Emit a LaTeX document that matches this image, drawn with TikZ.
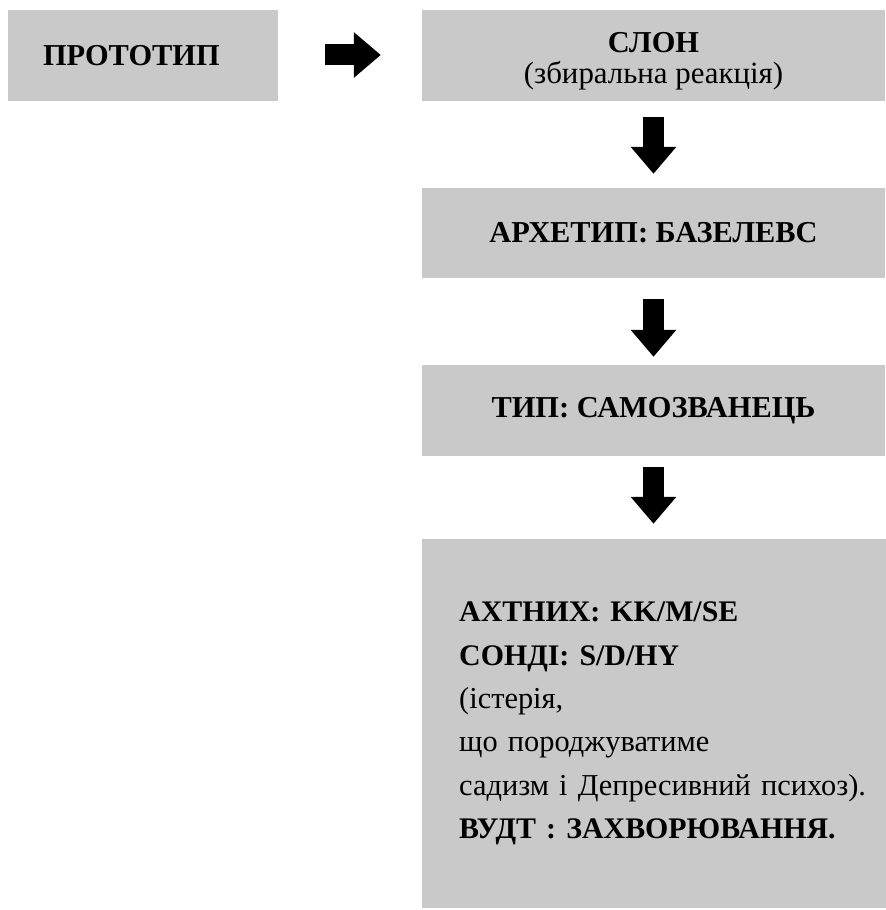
\documentclass[tikz,border=0pt]{standalone}
\usepackage{fontspec}
\setmainfont{Liberation Serif}
\usetikzlibrary{arrows.meta}
\definecolor{boxgray}{RGB}{201,201,201}
\tikzset{
  greybox/.style={fill=boxgray,draw=none,inner sep=0pt},
  headtext/.style={font=\fontsize{30.5}{34}\selectfont\bfseries},
  blockarrow/.style={line width=21bp,-{Triangle[width=44bp,length=27bp]}},
}
\begin{document}
\begin{tikzpicture}[>=latex,line join=miter,]
%%
\useasboundingbox (0bp,0bp) rectangle (886bp,910bp);
\node (proto) at (143bp,854.5bp) [greybox,minimum width=270bp,minimum height=91bp,text width=200bp,align=left,headtext] {ПРОТОТИП};
  \node (slon) at (653.5bp,854.5bp) [greybox,minimum width=463bp,minimum height=91bp,align=center,font=\fontsize{31}{31}\selectfont] {\rule{0pt}{32bp}{\fontsize{30.5}{31}\selectfont\bfseries СЛОН}\\(збиральна реакція)};
  \node (arch) at (653.5bp,677bp) [greybox,minimum width=463bp,minimum height=90bp,headtext] {АРХЕТИП: БАЗЕЛЕВС};
  \node (typ) at (653.5bp,499.5bp) [greybox,minimum width=463bp,minimum height=91bp,headtext] {ТИП: САМОЗВАНЕЦЬ};
  \node (diag) at (422bp,186.5bp) [greybox,anchor=west,inner xsep=37bp,text width=390bp,minimum height=369bp,align=left,font=\fontsize{30.5}{43.5}\selectfont] {{\fontsize{30}{43.5}\selectfont\bfseries АХТНИХ: KK/M/SE}\\
    {\fontsize{30}{43.5}\selectfont\bfseries СОНДІ: S/D/HY}\\
    (істерія,\\
    що породжуватиме\\
    \mbox{садизм і Депресивний психоз).}\\
    {\fontsize{30}{43.5}\selectfont\bfseries ВУДТ : ЗАХВОРЮВАННЯ.}};
  \draw [blockarrow,shorten <=47bp,shorten >=41bp] (proto.east |- 0,855bp) -- (slon.west |- 0,855bp);
  \draw [blockarrow,shorten <=16bp,shorten >=14bp] (slon) -- (arch);
  \draw [blockarrow,shorten <=21bp,shorten >=8bp] (arch) -- (typ);
  \draw [blockarrow,shorten <=11bp,shorten >=15bp] (typ) -- (diag.north -| typ);
%
\end{tikzpicture}
\end{document}
